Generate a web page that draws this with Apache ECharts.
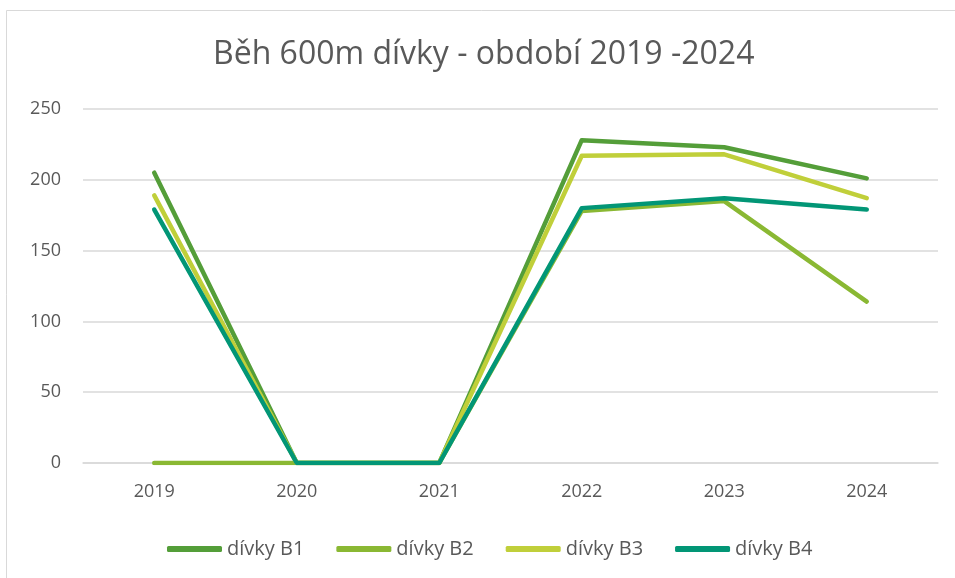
<!DOCTYPE html>
<html>
<head>
<meta charset="utf-8">
<script src="https://cdn.jsdelivr.net/npm/echarts@6/dist/echarts.min.js"></script>
<style>
  html, body { margin: 0; padding: 0; background: #fff; }
  #chart-container { width: 955px; height: 578px; }
</style>
</head>
<body>
<div id="chart-container"></div>
<script>
var years = ['2019', '2020', '2021', '2022', '2023', '2024'];
var b1 = [205, 0, 0, 228, 223, 201];
var b2 = [0, 0, 0, 178, 185, 114];
var b3 = [189, 0, 0, 217, 218, 187];
var b4 = [179, 0, 0, 180, 187, 179];

var seriesNames = ['dívky B1', 'dívky B2', 'dívky B3', 'dívky B4'];
var seriesData = [b1, b2, b3, b4];
var colors = ['#549E39', '#8AB833', '#C0CF3A', '#029676'];

var font = '"Open Sans", "Noto Sans", sans-serif';

var dom = document.getElementById('chart-container');
var myChart = echarts.init(dom, null, {renderer: 'canvas'});

option = {
  backgroundColor: '#fff',
  animation: false,
  color: colors,
  graphic: [{
    type: 'rect',
    shape: {x: 6.5, y: 10.5, width: 960, height: 600},
    style: {fill: 'none', stroke: '#d9d9d9', lineWidth: 1},
    silent: true
  }],
  title: {
    text: 'Běh 600m dívky - období 2019 -2024',
    left: 208,
    top: 34,
    textStyle: {fontFamily: font, fontSize: 32, fontWeight: 'normal', color: '#595959'}
  },
  legend: {
    bottom: 14,
    left: 162,
    itemWidth: 55,
    itemHeight: 6,
    itemGap: 32,
    icon: 'roundRect',
    textStyle: {fontFamily: font, fontSize: 20, color: '#595959'},
    data: seriesNames
  },
  grid: {left: 83, right: 17, top: 109, bottom: 115},
  xAxis: {
    type: 'category',
    data: years,
    boundaryGap: true,
    axisLine: {show: true, lineStyle: {color: '#d9d9d9', width: 1.5}},
    axisTick: {show: false},
    axisLabel: {fontFamily: font, fontSize: 18, color: '#595959', margin: 20}
  },
  yAxis: {
    type: 'value',
    min: 0,
    max: 250,
    interval: 50,
    axisLine: {show: false},
    axisTick: {show: false},
    axisLabel: {fontFamily: font, fontSize: 18, color: '#595959', margin: 22},
    splitLine: {lineStyle: {color: '#d9d9d9', width: 1.5}}
  },
  series: seriesNames.map(function (name, i) {
    return {
      name: name,
      type: 'line',
      data: seriesData[i],
      showSymbol: false,
      symbol: 'none',
      lineStyle: {width: 4.5, cap: 'round', join: 'round', color: colors[i]},
      itemStyle: {color: colors[i]}
    };
  })
};

myChart.setOption(option);
window.addEventListener('resize', myChart.resize);
</script>
</body>
</html>
